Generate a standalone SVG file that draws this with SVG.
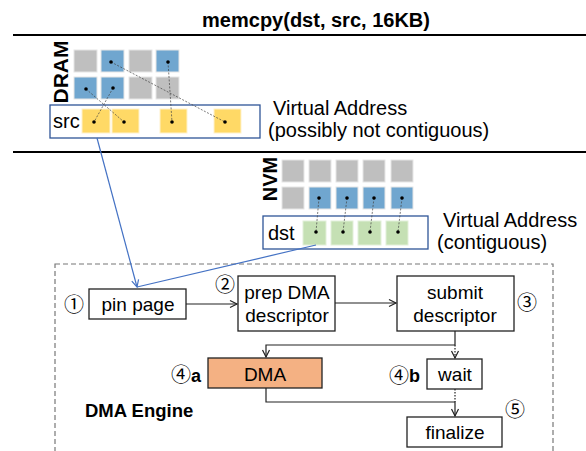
<svg xmlns="http://www.w3.org/2000/svg" width="586" height="451" viewBox="0 0 586 451">
<defs>
<style>
text{font-family:"Liberation Sans",Arial,sans-serif;fill:#000}
.t{font-size:19px}
.v{font-size:20px}
.b{font-weight:bold}
.c{font-family:"Noto Sans CJK JP","DejaVu Sans",sans-serif;font-size:20px}
.g{fill:#BFBFBF;stroke:#E6E6E6;stroke-width:1}
.bl{fill:#70A6CF;stroke:#E6E6E6;stroke-width:1}
.y{fill:#FFD966;stroke:#FFF2CC;stroke-width:1}
.gr{fill:#C5E0B4;stroke:#E2F0D9;stroke-width:1}
.vbox{fill:#fff;stroke:#2F5597;stroke-width:1.3}
.box{fill:#fff;stroke:#222;stroke-width:1.3}
.dl{stroke:#444;stroke-width:0.7;stroke-dasharray:2 1.5;fill:none}
.ln{stroke:#222;stroke-width:1.2;fill:none}
.dot{fill:#000}
</style>
<marker id="ah" markerWidth="10" markerHeight="10" refX="8" refY="5" orient="auto" markerUnits="userSpaceOnUse">
<path d="M1,1.5 L8,5 L1,8.5" fill="none" stroke="#222" stroke-width="1.2"/>
</marker>
<marker id="ahb" markerWidth="10" markerHeight="10" refX="8" refY="5" orient="auto" markerUnits="userSpaceOnUse">
<path d="M1,1.5 L8,5 L1,8.5" fill="none" stroke="#4472C4" stroke-width="1.2"/>
</marker>
</defs>

<g id="title">
<text x="316" y="27" text-anchor="middle" class="b" font-size="20">memcpy(dst, src, 16KB)</text>
<line x1="13" y1="35" x2="586" y2="35" stroke="#000" stroke-width="2"/>
<line x1="13" y1="152" x2="586" y2="152" stroke="#000" stroke-width="2"/>
</g>

<g id="dram">
<text transform="translate(68,72) rotate(-90)" text-anchor="middle" class="b" font-size="21">DRAM</text>
<rect class="g" x="74" y="50" width="23" height="22"/>
<rect class="bl" x="101" y="50" width="23" height="22"/>
<rect class="g" x="129" y="50" width="23" height="22"/>
<rect class="bl" x="156" y="50" width="23" height="22"/>
<rect class="bl" x="74" y="77" width="23" height="22"/>
<rect class="bl" x="101" y="77" width="23" height="22"/>
<rect class="g" x="129" y="77" width="23" height="22"/>
<rect class="g" x="156" y="77" width="23" height="22"/>
</g>

<g id="src">
<rect class="vbox" x="50" y="105" width="210" height="33"/>
<text x="53" y="128" class="v">src</text>
<rect class="y" x="82" y="109" width="28" height="24"/>
<rect class="y" x="112" y="109" width="27" height="24"/>
<rect class="y" x="160" y="109" width="27" height="24"/>
<rect class="y" x="214" y="109" width="27" height="24"/>
<text x="273" y="115" class="v">Virtual Address</text>
<text x="268" y="137" class="v">(possibly not contiguous)</text>
</g>

<g id="nvm">
<text transform="translate(277,179) rotate(-90)" text-anchor="middle" class="b" font-size="20">NVM</text>
<rect class="g" x="282" y="160" width="22" height="22"/>
<rect class="g" x="309" y="160" width="22" height="22"/>
<rect class="g" x="336" y="160" width="22" height="22"/>
<rect class="g" x="363" y="160" width="22" height="22"/>
<rect class="g" x="391" y="160" width="22" height="22"/>
<rect class="g" x="282" y="187" width="22" height="22"/>
<rect class="bl" x="309" y="187" width="22" height="22"/>
<rect class="bl" x="336" y="187" width="22" height="22"/>
<rect class="bl" x="363" y="187" width="22" height="22"/>
<rect class="bl" x="391" y="187" width="22" height="22"/>
</g>

<g id="dst">
<rect class="vbox" x="263" y="216" width="165" height="33"/>
<text x="268" y="240" class="v">dst</text>
<rect class="gr" x="303" y="221" width="23" height="24"/>
<rect class="gr" x="331" y="221" width="22" height="24"/>
<rect class="gr" x="358" y="221" width="23" height="24"/>
<rect class="gr" x="386" y="221" width="22" height="24"/>
<text x="443" y="227" class="v">Virtual Address</text>
<text x="437" y="249" class="v">(contiguous)</text>
</g>

<g id="mapping">
<line class="dl" x1="86" y1="89" x2="124" y2="122"/>
<line class="dl" x1="113" y1="88" x2="94" y2="122"/>
<line class="dl" x1="168" y1="62" x2="172" y2="122"/>
<line class="dl" x1="111" y1="62" x2="225" y2="122"/>
<line class="dl" x1="319" y1="198" x2="316" y2="232"/>
<line class="dl" x1="347" y1="198" x2="343" y2="232"/>
<line class="dl" x1="374" y1="198" x2="370" y2="232"/>
<line class="dl" x1="402" y1="198" x2="398" y2="232"/>
<circle class="dot" cx="86" cy="89" r="1.8"/>
<circle class="dot" cx="113" cy="88" r="1.8"/>
<circle class="dot" cx="168" cy="62" r="1.8"/>
<circle class="dot" cx="111" cy="62" r="1.8"/>
<circle class="dot" cx="94" cy="122" r="1.8"/>
<circle class="dot" cx="124" cy="122" r="1.8"/>
<circle class="dot" cx="172" cy="122" r="1.8"/>
<circle class="dot" cx="225" cy="122" r="1.8"/>
<circle class="dot" cx="319" cy="198" r="1.8"/>
<circle class="dot" cx="347" cy="198" r="1.8"/>
<circle class="dot" cx="374" cy="198" r="1.8"/>
<circle class="dot" cx="402" cy="198" r="1.8"/>
<circle class="dot" cx="316" cy="232" r="1.8"/>
<circle class="dot" cx="343" cy="232" r="1.8"/>
<circle class="dot" cx="370" cy="232" r="1.8"/>
<circle class="dot" cx="398" cy="232" r="1.8"/>
</g>

<g id="engine">
<rect x="55" y="264" width="498" height="200" fill="none" stroke="#777" stroke-width="1.2" stroke-dasharray="5 3"/>
<text x="85" y="417" class="b" font-size="18.5">DMA Engine</text>
</g>

<g id="pin">
<rect class="box" x="89" y="289" width="97" height="30"/>
<text x="138" y="311" text-anchor="middle" class="t">pin page</text>
<text x="74" y="312" text-anchor="middle" class="c">①</text>
</g>

<g id="prep">
<rect class="box" x="238" y="276" width="97" height="55"/>
<text x="287" y="299" text-anchor="middle" class="t">prep DMA</text>
<text x="287" y="322" text-anchor="middle" class="t">descriptor</text>
<text x="225" y="292" text-anchor="middle" class="c">②</text>
</g>

<g id="submit">
<rect class="box" x="397" y="276" width="117" height="55"/>
<text x="455" y="299" text-anchor="middle" class="t">submit</text>
<text x="455" y="322" text-anchor="middle" class="t">descriptor</text>
<text x="527" y="310" text-anchor="middle" class="c">③</text>
</g>

<g id="dma">
<rect x="208" y="358" width="114" height="30" fill="#F4B183" stroke="#222" stroke-width="1.3"/>
<text x="265" y="381" text-anchor="middle" font-size="19">DMA</text>
<text x="181" y="382" text-anchor="middle" class="c">④</text>
<text x="191" y="382" class="b" font-size="18">a</text>
</g>

<g id="wait">
<rect class="box" x="427" y="359" width="55" height="30"/>
<text x="455" y="381" text-anchor="middle" class="t">wait</text>
<text x="399" y="383" text-anchor="middle" class="c">④</text>
<text x="409" y="382" class="b" font-size="18">b</text>
</g>

<g id="finalize">
<rect class="box" x="407" y="417" width="95" height="30"/>
<text x="455" y="439" text-anchor="middle" class="t">finalize</text>
<text x="515" y="417" text-anchor="middle" class="c">⑤</text>
</g>

<g id="connectors">
<line x1="97" y1="138" x2="137" y2="287" stroke="#4472C4" stroke-width="1.2" marker-end="url(#ahb)"/>
<line x1="316" y1="245" x2="137" y2="287" stroke="#4472C4" stroke-width="1.2"/>
<line class="ln" x1="186" y1="304" x2="237" y2="304" marker-end="url(#ah)"/>
<line class="ln" x1="335" y1="303" x2="396" y2="303" marker-end="url(#ah)"/>
<path class="ln" d="M455,331 V345 H266 V357" marker-end="url(#ah)"/>
<line class="ln" x1="455" y1="345" x2="455" y2="358" stroke-dasharray="1.5 1.5" marker-end="url(#ah)"/>
<line class="ln" x1="455" y1="389" x2="455" y2="402" stroke-dasharray="1.5 1.5"/>
<path class="ln" d="M266,388 V402 H455 V416" marker-end="url(#ah)"/>
</g>
</svg>
